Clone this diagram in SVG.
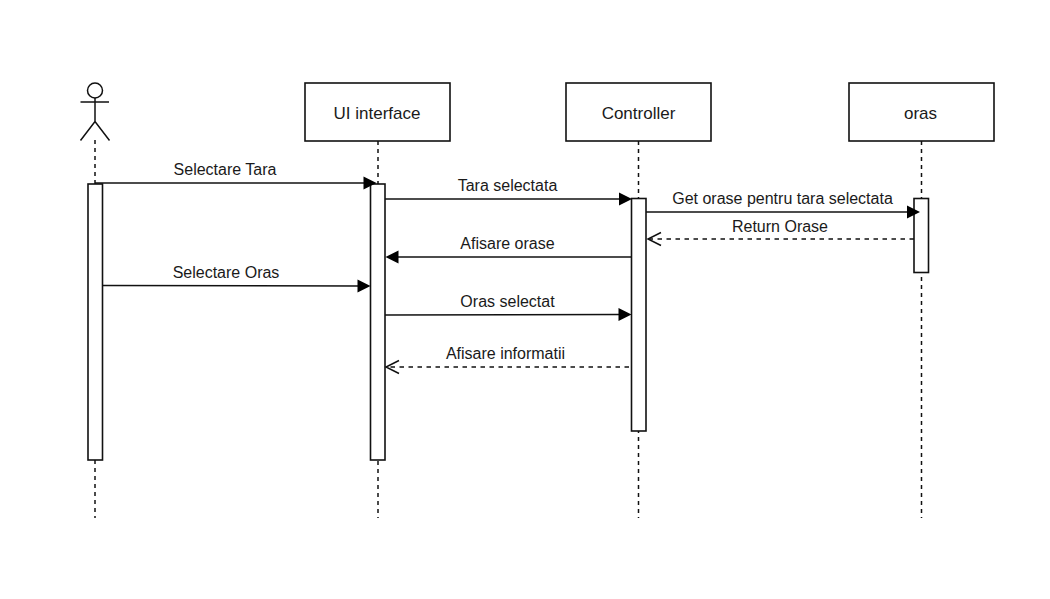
<svg xmlns="http://www.w3.org/2000/svg" width="1050" height="599" viewBox="0 0 1050 599">
<style>
.b{fill:#fff;stroke:#111;stroke-width:1.6}
.ll{fill:none;stroke:#111;stroke-width:1.5;stroke-dasharray:4 4}
.m{fill:none;stroke:#111;stroke-width:1.5}
.r{fill:none;stroke:#111;stroke-width:1.5;stroke-dasharray:4.500 4.500}
.h{fill:#000;stroke:none}
.o{fill:none;stroke:#111;stroke-width:1.5}
text{font-family:"Liberation Sans",Arial,sans-serif;font-size:16px;fill:#1a1a1a;text-anchor:middle}
.n{font-size:17px}
</style>
<rect width="1050" height="599" fill="#fff"/>
<g id="lifelines">
<line class="ll" x1="95" y1="140" x2="95" y2="518"/>
<line class="ll" x1="378" y1="141" x2="378" y2="518"/>
<line class="ll" x1="638.500" y1="141" x2="638.500" y2="518"/>
<line class="ll" x1="921.500" y1="141" x2="921.500" y2="518"/>
</g>
<g id="actor">
<circle class="m" cx="95" cy="90.500" r="7.500"/>
<path class="m" d="M95 98V121.500M80.500 102H109M80.500 140.500L95 121.500L109.500 140.500"/>
</g>
<g id="ui-interface"><rect class="b" x="305" y="83" width="145" height="58"/><text class="n" x="377" y="118.500">UI interface</text></g>
<g id="controller"><rect class="b" x="566" y="83" width="145" height="58"/><text class="n" x="638.500" y="118.500">Controller</text></g>
<g id="oras"><rect class="b" x="849" y="83" width="145" height="58"/><text class="n" x="920.500" y="118.500">oras</text></g>
<g id="activations">
<rect class="b" x="88" y="184" width="14.500" height="276"/>
<rect class="b" x="370.500" y="184" width="14.500" height="276"/>
<rect class="b" x="631.500" y="198.500" width="14.500" height="232.500"/>
<rect class="b" x="914" y="198.500" width="14.500" height="74"/>
</g>
<g id="connectors">
<line class="m" x1="95" y1="183" x2="366" y2="183"/><path class="h" d="M363.500 176.500L376.500 183L363.500 189.500Z"/>
<line class="m" x1="385" y1="199" x2="622" y2="199"/><path class="h" d="M619 192.500L632 199L619 205.500Z"/>
<line class="m" x1="646" y1="212" x2="910" y2="212"/><path class="h" d="M907 205.500L920 212L907 218.500Z"/>
<line class="r" x1="914" y1="239" x2="648" y2="239"/><path class="o" d="M661 232.500L648 239L661 245.500"/>
<line class="m" x1="631.500" y1="257" x2="395" y2="257"/><path class="h" d="M398.500 250.500L385.500 257L398.500 263.500Z"/>
<line class="m" x1="102.500" y1="285.500" x2="360" y2="286"/><path class="h" d="M357.500 279.500L370.500 286L357.500 292.500Z"/>
<line class="m" x1="385" y1="315" x2="621" y2="314.500"/><path class="h" d="M618.500 308L631.500 314.500L618.500 321Z"/>
<line class="r" x1="629" y1="367" x2="386" y2="367"/><path class="o" d="M399 360.500L386 367L399 373.500"/>
</g>
<g id="labels">
<text x="225" y="175">Selectare Tara</text>
<text x="507.500" y="191">Tara selectata</text>
<text x="782.500" y="204">Get orase pentru tara selectata</text>
<text x="780" y="232">Return Orase</text>
<text x="507.500" y="249">Afisare orase</text>
<text x="226" y="277.500">Selectare Oras</text>
<text x="507.500" y="307">Oras selectat</text>
<text x="505.500" y="358.500">Afisare informatii</text>
</g>
</svg>
